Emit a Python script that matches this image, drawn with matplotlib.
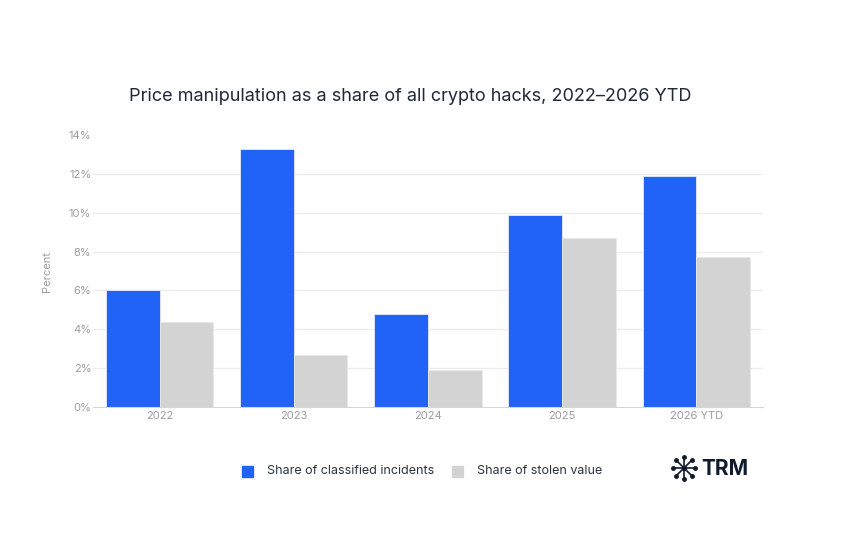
import matplotlib.pyplot as plt
import numpy as np

CATEGORIES = ['2022', '2023', '2024', '2025', '2026 YTD']
INCIDENTS = [6.0, 13.3, 4.8, 9.9, 11.9]
STOLEN = [4.4, 2.7, 1.9, 8.7, 7.7]
Y_TICKS = [0, 2, 4, 6, 8, 10, 12, 14]

BLUE = '#2163F6'
GRAY = '#D3D3D3'
DARK = '#1f2937'
TICK_GRAY = '#999ca2'


def main():
	plt.rcParams['font.family'] = ['Inter', 'DejaVu Sans']
	fig = plt.figure(figsize=(8.5, 5.6), dpi=100)
	ax = fig.add_axes([0.109, 0.273, 0.789, 0.486])

	x = np.arange(len(CATEGORIES))
	w = 0.4
	ax.bar(x - w / 2, INCIDENTS, width=w, color=BLUE, edgecolor='#e6ecfb', linewidth=0.6, zorder=3)
	ax.bar(x + w / 2, STOLEN, width=w, color=GRAY, edgecolor='#e9e9e9', linewidth=0.6, zorder=3)

	ax.set_xlim(-0.5, len(CATEGORIES) - 0.5)
	ax.set_ylim(0, 14)
	ax.set_yticks(Y_TICKS)
	ax.set_yticklabels([f'{v}%' for v in Y_TICKS])
	ax.set_xticks(x)
	ax.set_xticklabels(CATEGORIES)
	ax.tick_params(axis='both', length=0, labelsize=8, colors=TICK_GRAY, pad=3)
	ax.tick_params(axis='y', pad=1)
	# no gridline on the top tick
	for v in Y_TICKS[1:-1]:
		ax.axhline(v, color='#ececec', linewidth=1, zorder=0)
	for s in ['top', 'right', 'left']:
		ax.spines[s].set_visible(False)
	ax.spines['bottom'].set_color('#d6d6d6')
	ax.spines['bottom'].set_zorder(4)
	ax.set_ylabel('Percent', fontsize=8, color=TICK_GRAY, labelpad=12)

	fig.text(0.482, 0.827, 'Price manipulation as a share of all crypto hacks, 2022\u20132026 YTD',
		ha='center', va='center', fontsize=13, color=DARK)

	# legend
	fig.patches.append(plt.Rectangle((242 / 850, 1 - 477 / 560), 11 / 850, 11 / 560,
		transform=fig.transFigure, color=BLUE))
	fig.text(267 / 850, 1 - 471 / 560, 'Share of classified incidents', va='center', fontsize=9, color='#2b3340')
	fig.patches.append(plt.Rectangle((452 / 850, 1 - 477 / 560), 11 / 850, 11 / 560,
		transform=fig.transFigure, color=GRAY))
	fig.text(477 / 850, 1 - 471 / 560, 'Share of stolen value', va='center', fontsize=9, color='#2b3340')

	# TRM logo
	cx, cy = 684, 468
	lx = fig.add_axes([0, 0, 1, 1], zorder=5)
	lx.set_xlim(0, 850)
	lx.set_ylim(560, 0)
	lx.axis('off')
	for ang in np.arange(0, 360, 45):
		r = np.deg2rad(ang)
		lx.plot([cx, cx + 10 * np.cos(r)], [cy, cy + 10 * np.sin(r)], color='#0f1b2d', lw=1.2)
		lx.plot(cx + 11 * np.cos(r), cy + 11 * np.sin(r), 'o', color='#0f1b2d', ms=2.5)
	lx.plot(cx, cy, 'o', color='#0f1b2d', ms=3)
	lx.text(701, 469, 'TRM', fontsize=15, fontweight='bold', color='#0f1b2d', va='center', ha='left')

	fig.savefig('out.png', dpi=100, facecolor='white')


if __name__ == '__main__':
	main()
